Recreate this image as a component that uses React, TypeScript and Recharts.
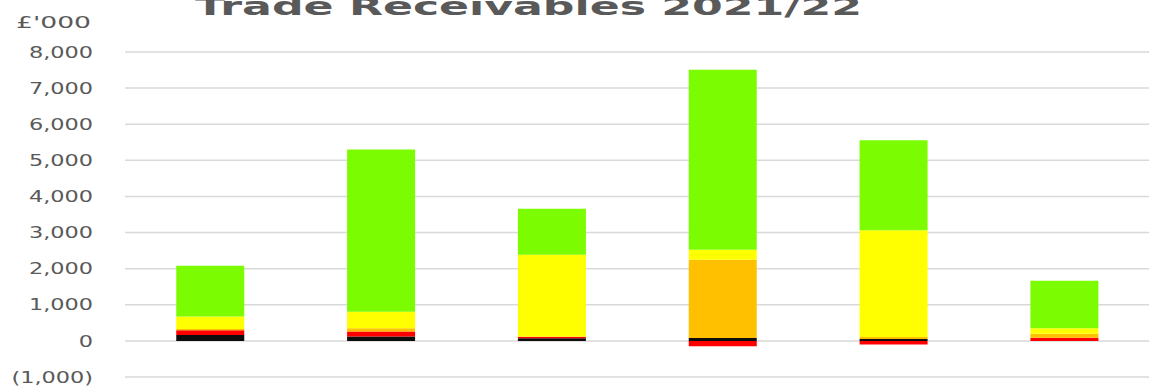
import React from "react";
import { BarChart, Bar, XAxis, YAxis, CartesianGrid } from "recharts";

const categories = ["1", "2", "3", "4", "5", "6"];
const overdue90 = [165, 120, 70, 80, 50, 0];
const overdue60 = [127, 140, 45, -150, -100, 85];
const overdue30 = [40, 90, 0, 2164, 60, 115];
const overdue0 = [340, 460, 2267, 277, 2955, 150];
const current = [1406, 4487, 1275, 4986, 2493, 1312];
const yTicks = [-1000, 0, 1000, 2000, 3000, 4000, 5000, 6000, 7000, 8000];

const data = categories.map((c, i) => ({
  name: c,
  black: overdue90[i],
  red: overdue60[i],
  orange: overdue30[i],
  yellow: overdue0[i],
  green: current[i],
}));

const fmt = (v: number) => {
  const s = Math.abs(v).toLocaleString("en-GB");
  return v < 0 ? `(${s})` : s;
};

const Tick = (props: any) => {
  const { x, y, payload } = props;
  return (
    <text
      transform={`translate(${x},${y}) scale(1.4,1)`}
      x={0}
      y={0}
      dy="0.35em"
      textAnchor="end"
      fill="#595959"
      fontSize={16}
      fontFamily="DejaVu Sans"
    >
      {fmt(payload.value)}
    </text>
  );
};

export default function App() {
  return (
    <div style={{ position: "absolute", left: 0, top: 0, width: 1149, height: 389, overflow: "hidden", background: "#fff" }}>
      <BarChart
        width={1160}
        height={389}
        data={data}
        stackOffset="sign"
        barCategoryGap="30%"
        margin={{ top: 52, right: 10, bottom: 12, left: 0 }}
      >
        <CartesianGrid vertical={false} stroke="#D9D9D9" strokeWidth={1.5} />
        <XAxis dataKey="name" hide />
        <YAxis
          width={125}
          domain={[-1000, 8000]}
          ticks={yTicks}
          axisLine={false}
          tickLine={false}
          tickSize={0}
          tickMargin={32}
          tick={<Tick />}
          interval={0}
        />
        <Bar dataKey="black" stackId="a" fill="#0D0D0D" isAnimationActive={false} />
        <Bar dataKey="red" stackId="a" fill="#FF0000" isAnimationActive={false} />
        <Bar dataKey="orange" stackId="a" fill="#FFC000" isAnimationActive={false} />
        <Bar dataKey="yellow" stackId="a" fill="#FFFF00" isAnimationActive={false} />
        <Bar dataKey="green" stackId="a" fill="#7CFC00" isAnimationActive={false} />
      </BarChart>
      <svg width={1149} height={60} style={{ position: "absolute", left: 0, top: 0, pointerEvents: "none" }}>
        <text
          x={195}
          y={15}
          textLength={667}
          lengthAdjust="spacingAndGlyphs"
          fontFamily="DejaVu Sans"
          fontWeight="bold"
          fontSize={24}
          fill="#595959"
        >
          Trade Receivables 2021/22
        </text>
        <text
          x={16}
          y={28}
          textLength={75}
          lengthAdjust="spacingAndGlyphs"
          fontFamily="DejaVu Sans"
          fontSize={16}
          fill="#595959"
        >
          £'000
        </text>
      </svg>
    </div>
  );
}
